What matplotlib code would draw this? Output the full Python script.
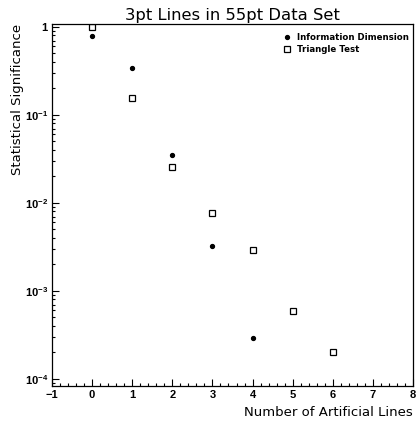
import matplotlib
matplotlib.use("Agg")
import matplotlib.pyplot as plt
from matplotlib.ticker import MultipleLocator, LogLocator, FixedLocator, NullFormatter

plt.rcParams['mathtext.fontset'] = 'custom'
plt.rcParams['mathtext.bf'] = 'Liberation Sans:bold'
plt.rcParams['mathtext.rm'] = 'Liberation Sans:bold'

# Data
info_x = [0, 1, 2, 3, 4]
info_y = [0.79, 0.345, 0.0354, 0.00322, 0.000295]
tri_x = [0, 1, 2, 3, 4, 5, 6]
tri_y = [0.99, 0.155, 0.0259, 0.0076, 0.00295, 0.00059, 0.0002]
y_ticks = [1e-4, 1e-3, 1e-2, 1e-1, 1]
y_tick_labels = [r"$\mathbf{10^{-4}}$", r"$\mathbf{10^{-3}}$", r"$\mathbf{10^{-2}}$", r"$\mathbf{10^{-1}}$", "1"]
x_ticks = [-1, 0, 1, 2, 3, 4, 5, 6, 7, 8]

fig = plt.figure(figsize=(4.19, 4.24), dpi=100)
ax = fig.add_axes([52/419, 1-386/424, (413-52)/419, (386-24)/424])

ax.plot(info_x, info_y, 'o', color='black', markersize=2.8, linestyle='none',
        label='Information Dimension')
ax.plot(tri_x, tri_y, 's', markerfacecolor='white', markeredgecolor='black',
        markeredgewidth=0.9, markersize=4.3, linestyle='none', label='Triangle Test')

ax.set_yscale('log')
ax.set_xlim(-1, 8)
ax.set_ylim(8.3e-5, 1.08)

ax.set_xticks(x_ticks)
ax.set_xticklabels([str(v) if v >= 0 else "\u22121" for v in x_ticks],
                   fontfamily='Liberation Sans', fontweight='bold', fontsize=8)
ax.xaxis.set_minor_locator(MultipleLocator(0.2))
ax.set_yticks(y_ticks)
ax.set_yticklabels(y_tick_labels, fontfamily='Liberation Sans', fontweight='bold', fontsize=8)
ax.yaxis.set_minor_locator(LogLocator(base=10, subs=range(2, 10)))
ax.yaxis.set_minor_formatter(NullFormatter())

ax.tick_params(which='both', direction='in', top=False, right=False)
ax.tick_params(which='major', length=5, width=0.8, pad=3)
ax.tick_params(which='minor', length=2.5, width=0.8)
for s in ax.spines.values():
    s.set_linewidth(0.9)

ax.set_title("3pt Lines in 55pt Data Set", fontsize=11.8, fontfamily='DejaVu Sans', pad=3)
fig.text(18/419, 1-24/424, "Statistical Significance", fontsize=9.5,
         rotation=90, ha='center', va='top')
ax.set_xlabel("Number of Artificial Lines", fontsize=9.5, loc='right', labelpad=4)

leg = ax.legend(loc='upper right', frameon=False, handletextpad=0.7,
                borderaxespad=0.25, borderpad=0.4, labelspacing=0.3, handlelength=1.0,
                prop={'weight': 'bold', 'size': 6.2}, bbox_to_anchor=(1.005, 0.99))

fig.savefig("out.png", dpi=100)
